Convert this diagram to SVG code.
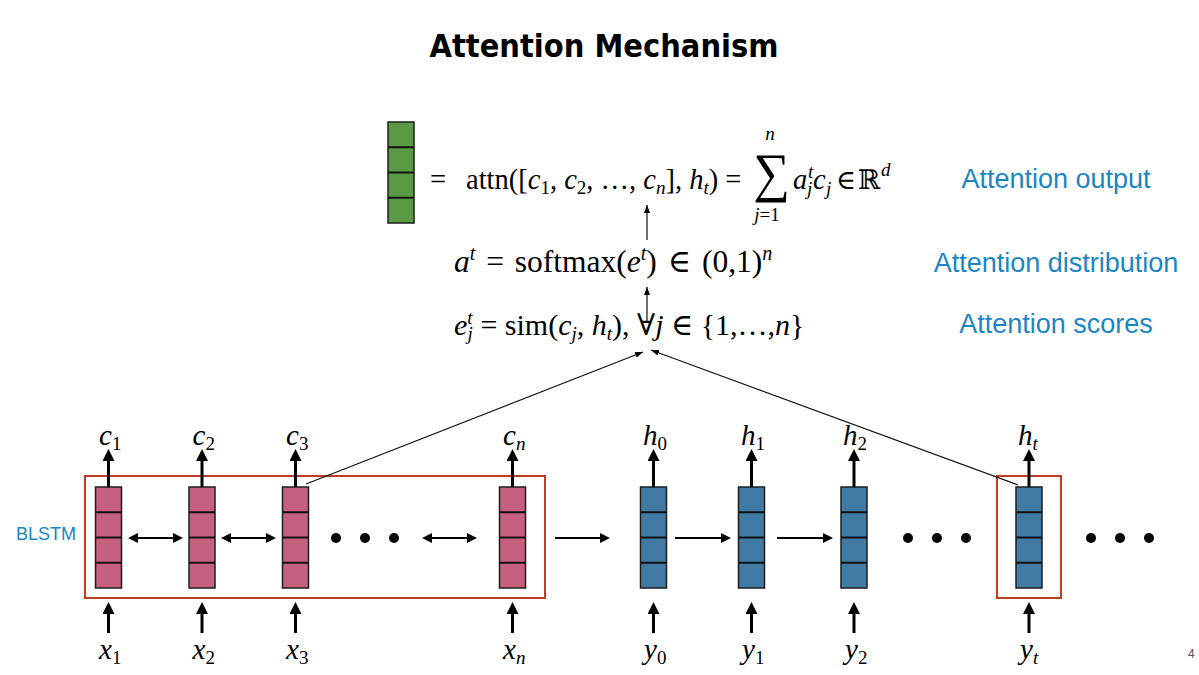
<svg xmlns="http://www.w3.org/2000/svg" xmlns:xlink="http://www.w3.org/1999/xlink" width="1199" height="675" viewBox="0 0 1199 675">
<style>
.m{font-family:"Liberation Serif","DejaVu Serif",serif;font-size:29.5px;fill:#000}
.m1{font-size:28.5px}
.m2{font-size:31.5px;word-spacing:3px}
.m3{font-size:30px}
.i{font-style:italic}
.s{font-size:19px}
.s2{font-size:20px}
.lab{font-family:"Liberation Sans",Arial,sans-serif;font-size:27px;fill:#1a86c4}
.v{font-family:"Liberation Serif","DejaVu Serif",serif;font-size:29px;font-style:italic;fill:#000}
.thick{stroke:#000;stroke-width:3;fill:none}
.dbl{stroke:#000;stroke-width:2;fill:none}
.thin{stroke:#111;stroke-width:1.2;fill:none}
.box{fill:none;stroke:#c23b26;stroke-width:2}
</style>
<defs>
<marker id="hd" markerUnits="userSpaceOnUse" viewBox="0 0 12 12" markerWidth="12" markerHeight="12" refX="0" refY="6" orient="auto-start-reverse">
<path d="M0,0 L12,6 L0,12 z" fill="#000"/>
</marker>
<marker id="hd2" markerUnits="userSpaceOnUse" viewBox="0 0 10 10" markerWidth="10" markerHeight="10" refX="0" refY="5" orient="auto-start-reverse">
<path d="M0,0 L10,5 L0,10 z" fill="#000"/>
</marker>
<marker id="sm" markerUnits="userSpaceOnUse" viewBox="0 0 8 6" markerWidth="8" markerHeight="6" refX="8" refY="3" orient="auto">
<path d="M0,0 L8,3 L0,6 z" fill="#000"/>
</marker>
<g id="blk">
<rect x="0" y="0" width="26" height="101" stroke="#1e1e1e" stroke-width="1.5"/>
<path d="M0,25.25H26M0,50.5H26M0,75.75H26" stroke="#111" stroke-width="2.2" fill="none"/>
</g>
</defs>
<rect width="1199" height="675" fill="#fff"/>

<text x="604" y="57" text-anchor="middle" font-family="'DejaVu Sans',Verdana,sans-serif" font-weight="bold" font-size="32" textLength="349" lengthAdjust="spacingAndGlyphs" fill="#000">Attention Mechanism</text>

<g id="output-vector"><use xlink:href="#blk" x="388" y="122" fill="#5b9a44"/></g>

<g id="formula-output">
<text class="m m1" x="430" y="189">=</text>
<text class="m m1" x="466" y="189">attn([<tspan class="i">c</tspan><tspan class="s" dy="5">1</tspan><tspan dy="-5">, </tspan><tspan class="i">c</tspan><tspan class="s" dy="5">2</tspan><tspan dy="-5">, …, </tspan><tspan class="i">c</tspan><tspan class="s i" dy="5">n</tspan><tspan dy="-5">], </tspan><tspan class="i">h</tspan><tspan class="s i" dy="5">t</tspan><tspan dy="-5">) =</tspan></text>
<text class="m" transform="translate(753,191) scale(1.12,1.18)" style="font-size:46px">∑</text>
<text class="m i s" x="770" y="140" text-anchor="middle">n</text>
<text class="m s" x="767" y="221" text-anchor="middle"><tspan class="i">j</tspan>=1</text>
<text class="m m1 i" x="793" y="189">a</text>
<text class="m s i" x="808" y="178">t</text>
<text class="m s i" x="807" y="195">j</text>
<text class="m m1 i" x="813" y="189">c</text>
<text class="m s i" x="826" y="195">j</text>
<text class="m" x="836" y="189" style="font-size:27px">∈</text>
<text class="m" x="858" y="189" style="font-size:27px">ℝ</text>
<text class="m s i" x="881" y="176">d</text>
</g>

<g id="formula-distribution">
<text class="m m2" x="454" y="272"><tspan class="i">a</tspan><tspan class="s2 i" dy="-12">t</tspan><tspan dy="12"> = softmax(</tspan><tspan class="i">e</tspan><tspan class="s2 i" dy="-12">t</tspan><tspan dy="12">) ∈ (0,1)</tspan><tspan class="s2 i" dy="-12">n</tspan></text>
</g>

<g id="formula-scores">
<text class="m m3" x="454" y="335"><tspan class="i">e</tspan><tspan class="s i" dy="-11">t</tspan><tspan class="s i" dx="-5" dy="16">j</tspan><tspan dy="-5"> = sim(</tspan><tspan class="i">c</tspan><tspan class="s i" dy="5">j</tspan><tspan dy="-5">, </tspan><tspan class="i">h</tspan><tspan class="s i" dy="5">t</tspan><tspan dy="-5">), ∀</tspan><tspan class="i">j</tspan><tspan> ∈ {1,…,</tspan><tspan class="i">n</tspan><tspan>}</tspan></text>
</g>

<g id="labels">
<text class="lab" x="1056" y="188" text-anchor="middle">Attention output</text>
<text class="lab" x="1056" y="272" text-anchor="middle">Attention distribution</text>
<text class="lab" x="1056" y="333" text-anchor="middle">Attention scores</text>
<text x="16" y="540" font-family="'Liberation Sans',Arial,sans-serif" font-size="18" fill="#1a86c4">BLSTM</text>
</g>

<g id="blstm-box"><rect class="box" x="85" y="476" width="460" height="122"/></g>
<g id="ht-box"><rect class="box" x="997" y="476" width="64" height="122"/></g>

<g id="c1"><use xlink:href="#blk" x="95.5" y="487" fill="#c5607e"/></g>
<g id="c2"><use xlink:href="#blk" x="189" y="487" fill="#c5607e"/></g>
<g id="c3"><use xlink:href="#blk" x="282.5" y="487" fill="#c5607e"/></g>
<g id="cn"><use xlink:href="#blk" x="499.5" y="487" fill="#c5607e"/></g>
<g id="h0"><use xlink:href="#blk" x="640.5" y="487" fill="#417aa2"/></g>
<g id="h1"><use xlink:href="#blk" x="738.5" y="487" fill="#417aa2"/></g>
<g id="h2"><use xlink:href="#blk" x="841" y="487" fill="#417aa2"/></g>
<g id="ht"><use xlink:href="#blk" x="1016" y="487" fill="#417aa2"/></g>

<g id="dots" fill="#000">
<circle cx="336" cy="538" r="5"/><circle cx="365" cy="538" r="5"/><circle cx="394" cy="538" r="5"/>
<circle cx="908" cy="538" r="5"/><circle cx="937" cy="538" r="5"/><circle cx="966" cy="538" r="5"/>
<circle cx="1091" cy="538" r="5"/><circle cx="1120" cy="538" r="5"/><circle cx="1149" cy="538" r="5"/>
</g>

<g id="connectors">
<path class="thick" marker-end="url(#hd)" d="M108.5,487V461"/>
<path class="thick" marker-end="url(#hd)" d="M202,487V461"/>
<path class="thick" marker-end="url(#hd)" d="M295.5,487V461"/>
<path class="thick" marker-end="url(#hd)" d="M512.5,487V461"/>
<path class="thick" marker-end="url(#hd)" d="M653.5,487V461"/>
<path class="thick" marker-end="url(#hd)" d="M751.5,487V461"/>
<path class="thick" marker-end="url(#hd)" d="M854,487V461"/>
<path class="thick" marker-end="url(#hd)" d="M1029,487V461"/>
<path class="thick" marker-end="url(#hd)" d="M108.5,633V614"/>
<path class="thick" marker-end="url(#hd)" d="M202,633V614"/>
<path class="thick" marker-end="url(#hd)" d="M295.5,633V614"/>
<path class="thick" marker-end="url(#hd)" d="M512.5,633V614"/>
<path class="thick" marker-end="url(#hd)" d="M653.5,633V614"/>
<path class="thick" marker-end="url(#hd)" d="M751.5,633V614"/>
<path class="thick" marker-end="url(#hd)" d="M854,633V614"/>
<path class="thick" marker-end="url(#hd)" d="M1029,633V614"/>
<path class="dbl" marker-start="url(#hd2)" marker-end="url(#hd2)" d="M138,538H173"/>
<path class="dbl" marker-start="url(#hd2)" marker-end="url(#hd2)" d="M231,538H266"/>
<path class="dbl" marker-start="url(#hd2)" marker-end="url(#hd2)" d="M432,538H467"/>
<path class="dbl" marker-end="url(#hd2)" d="M555,538H600"/>
<path class="dbl" marker-end="url(#hd2)" d="M675,538H721"/>
<path class="dbl" marker-end="url(#hd2)" d="M777,538H823"/>
<path class="thin" marker-end="url(#sm)" d="M306,484L643,352"/>
<path class="thin" marker-end="url(#sm)" d="M1018,485L651,350"/>
<path class="thin" marker-end="url(#sm)" d="M647,240V205"/>
<path class="thin" marker-end="url(#sm)" d="M647,322V287"/>
</g>

<g id="io-labels">
<text class="v" x="99" y="445">c<tspan class="s" dy="5" font-style="normal">1</tspan></text>
<text class="v" x="192.5" y="445">c<tspan class="s" dy="5" font-style="normal">2</tspan></text>
<text class="v" x="286" y="445">c<tspan class="s" dy="5" font-style="normal">3</tspan></text>
<text class="v" x="503" y="445">c<tspan class="s" dy="5">n</tspan></text>
<text class="v" x="643" y="445">h<tspan class="s" dy="5" font-style="normal">0</tspan></text>
<text class="v" x="741" y="445">h<tspan class="s" dy="5" font-style="normal">1</tspan></text>
<text class="v" x="843" y="445">h<tspan class="s" dy="5" font-style="normal">2</tspan></text>
<text class="v" x="1018" y="445">h<tspan class="s" dy="5">t</tspan></text>
<text class="v" x="99" y="659">x<tspan class="s" dy="5" font-style="normal">1</tspan></text>
<text class="v" x="192.5" y="659">x<tspan class="s" dy="5" font-style="normal">2</tspan></text>
<text class="v" x="286" y="659">x<tspan class="s" dy="5" font-style="normal">3</tspan></text>
<text class="v" x="503" y="659">x<tspan class="s" dy="5">n</tspan></text>
<text class="v" x="644" y="659">y<tspan class="s" dy="5" font-style="normal">0</tspan></text>
<text class="v" x="742" y="659">y<tspan class="s" dy="5" font-style="normal">1</tspan></text>
<text class="v" x="845" y="659">y<tspan class="s" dy="5" font-style="normal">2</tspan></text>
<text class="v" x="1020" y="659">y<tspan class="s" dy="5">t</tspan></text>
<text x="1188" y="658" font-family="'Liberation Sans',Arial,sans-serif" font-size="12" fill="#555">4</text>
</g>
</svg>
